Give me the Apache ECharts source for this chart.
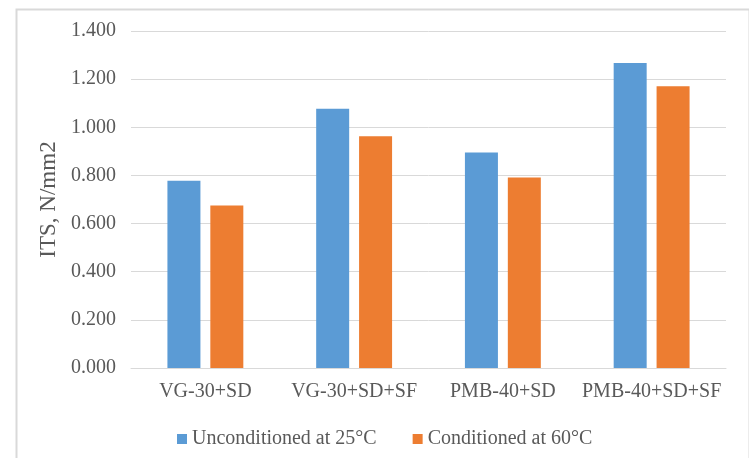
<!DOCTYPE html>
<html>
<head>
<meta charset="utf-8">
<script src="https://cdn.jsdelivr.net/npm/echarts@6/dist/echarts.min.js"></script>
<style>
html,body{margin:0;padding:0;background:#fff;}
#c{width:749px;height:458px;}
</style>
</head>
<body>
<div id="c"></div>
<script>
const categories = ["VG-30+SD", "VG-30+SD+SF", "PMB-40+SD", "PMB-40+SD+SF"];
const unconditioned = [0.778, 1.077, 0.895, 1.267];
const conditioned = [0.675, 0.963, 0.791, 1.170];
const seriesNames = ["Unconditioned at 25°C", "Conditioned at 60°C"];
const yAxisName = "ITS, N/mm2";

const chart = echarts.init(document.getElementById('c'), null, {renderer: 'canvas'});
const font = "Liberation Serif";
chart.setOption({
  animation: false,
  backgroundColor: '#fff',
  graphic: [{
    type: 'rect', left: 14, top: 7,
    shape: {width: 733, height: 470},
    style: {fill: 'none', stroke: '#d9d9d9', lineWidth: 2},
    silent: true
  }],
  grid: {left: 131, right: 23, top: 31, bottom: 90},
  legend: {
    left: 172, top: 424,
    itemWidth: 10, itemHeight: 10, itemGap: 36,
    icon: 'rect',
    textStyle: {fontFamily: font, fontSize: 20, color: '#595959'},
    data: seriesNames
  },
  xAxis: {
    type: 'category', data: categories,
    axisLine: {lineStyle: {color: '#d9d9d9', width: 1}},
    axisTick: {show: false},
    axisLabel: {fontFamily: font, fontSize: 20, color: '#595959', margin: 14,
      interval: 0, hideOverlap: false}
  },
  yAxis: {
    type: 'value', min: 0, max: 1.4, interval: 0.2,
    name: yAxisName, nameLocation: 'middle', nameGap: 65, nameRotate: 90,
    nameTextStyle: {fontFamily: font, fontSize: 23, color: '#595959'},
    axisLine: {show: false}, axisTick: {show: false},
    splitLine: {lineStyle: {color: '#d9d9d9', width: 1}},
    axisLabel: {fontFamily: font, fontSize: 20, color: '#595959', margin: 15,
      formatter: v => v.toFixed(3)}
  },
  series: [
    {name: seriesNames[0], type: 'bar', data: unconditioned, barWidth: 33, barGap: '30%',
     itemStyle: {color: '#5b9bd5'}},
    {name: seriesNames[1], type: 'bar', data: conditioned, barWidth: 33,
     itemStyle: {color: '#ed7d31'}}
  ]
});
</script>
</body>
</html>
